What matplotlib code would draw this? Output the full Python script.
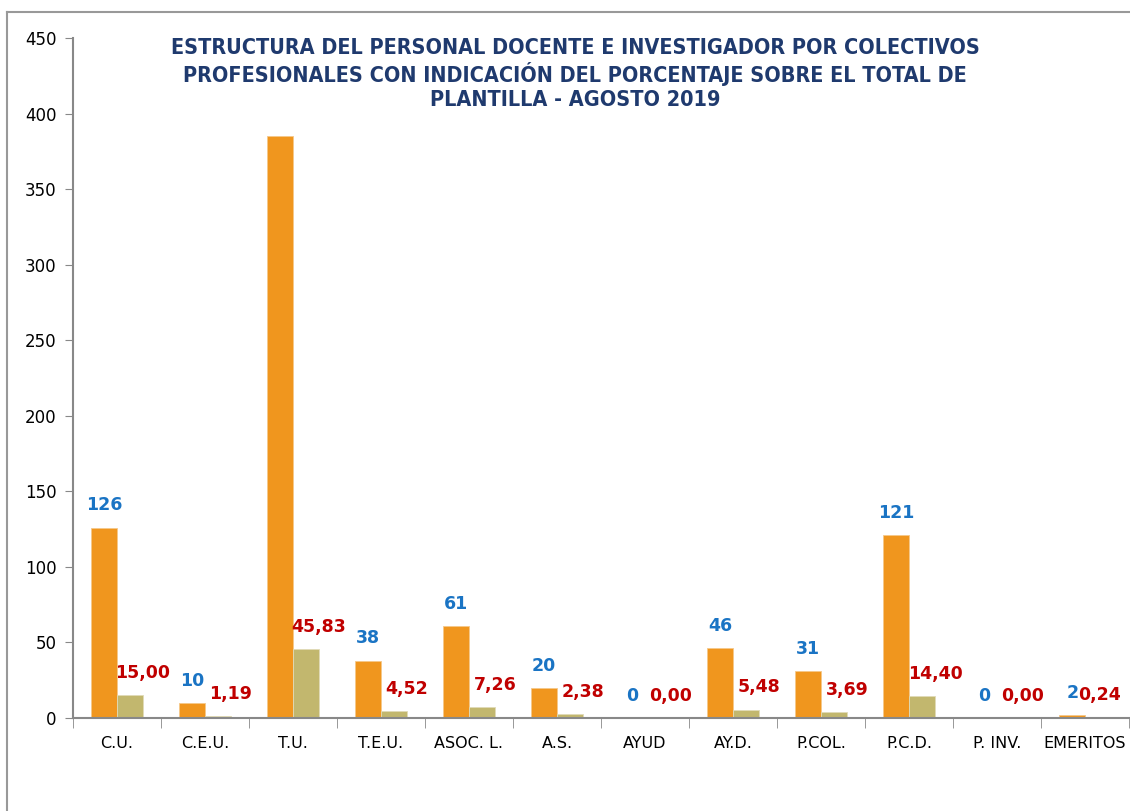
import matplotlib
matplotlib.use("Agg")
import matplotlib.pyplot as plt
from matplotlib.lines import Line2D
import numpy as np

categories = ["C.U.", "C.E.U.", "T.U.", "T.E.U.", "ASOC. L.", "A.S.", "AYUD",
              "AY.D.", "P.COL.", "P.C.D.", "P. INV.", "EMERITOS"]
counts = [126, 10, 385, 38, 61, 20, 0, 46, 31, 121, 0, 2]
percents = [15.00, 1.19, 45.83, 4.52, 7.26, 2.38, 0.00, 5.48, 3.69, 14.40, 0.00, 0.24]
yticks = [0, 50, 100, 150, 200, 250, 300, 350, 400, 450]
title = ("ESTRUCTURA DEL PERSONAL DOCENTE E INVESTIGADOR POR COLECTIVOS\n"
         "PROFESIONALES CON INDICACIÓN DEL PORCENTAJE SOBRE EL TOTAL DE\n"
         "PLANTILLA - AGOSTO 2019")

W, H = 1130, 811
fig = plt.figure(figsize=(W / 100, H / 100), dpi=100)
ax = fig.add_axes([73 / W, 1 - 718 / H, (1129 - 73) / W, (718 - 38) / H])

x = np.arange(len(categories))
bw = 0.29
orange = "#F0961E"
olive = "#C2B76E"
ax.bar(x - bw / 2, counts, bw, color=orange, edgecolor="#F5C88A", linewidth=0.6)
ax.bar(x + bw / 2, percents, bw, color=olive, edgecolor="#E0DBB8", linewidth=0.6)

n = len(categories)
for i, (xi, c, p) in enumerate(zip(x, counts, percents)):
    if c < 400 and i != 2:  # the T.U. count label is hidden behind the title in the reference
        ax.annotate(f"{c}", (xi - bw / 2, c), xytext=(0, 16), textcoords="offset points",
                    ha="center", va="center", color="#1A74C4", fontsize=12.5, fontweight="bold")
    shift = 0.15 if i < n - 1 else 0.02
    ax.annotate(f"{p:.2f}".replace(".", ","), (xi + bw / 2 + shift, p), xytext=(0, 16),
                textcoords="offset points", ha="center", va="center",
                color="#C00000", fontsize=12.5, fontweight="bold")

ax.set_xlim(-0.5, n - 0.5)
ax.set_ylim(0, 450)
ax.set_yticks(yticks)
ax.tick_params(axis="y", direction="out", length=6, color="#888888", labelsize=12, pad=6)
ax.set_xticks(x)
ax.set_xticklabels(categories, fontsize=11.5)
ax.tick_params(axis="x", length=0, pad=13)
ax.set_xticks(np.arange(-0.5, n - 0.4, 1.0), minor=True)
ax.tick_params(axis="x", which="minor", direction="out", length=7, color="#888888")

for s in ["top", "right"]:
    ax.spines[s].set_visible(False)
for s in ["left", "bottom"]:
    ax.spines[s].set_color("#888888")
    ax.spines[s].set_linewidth(1.5)

fig.text(575 / W, 1 - 74 / H, title, ha="center", va="center", color="#1F3A6E",
         fontsize=15.5, fontweight="bold", fontstretch="condensed", linespacing=1.2)

# outer frame (partially cropped)
fig.add_artist(Line2D([7 / W, 7 / W], [0, 1 - 12 / H], transform=fig.transFigure,
                      color="#999999", linewidth=1.5))
fig.add_artist(Line2D([7 / W, 1], [1 - 12 / H, 1 - 12 / H], transform=fig.transFigure,
                      color="#999999", linewidth=1.5))

fig.savefig("out.png", dpi=100)
